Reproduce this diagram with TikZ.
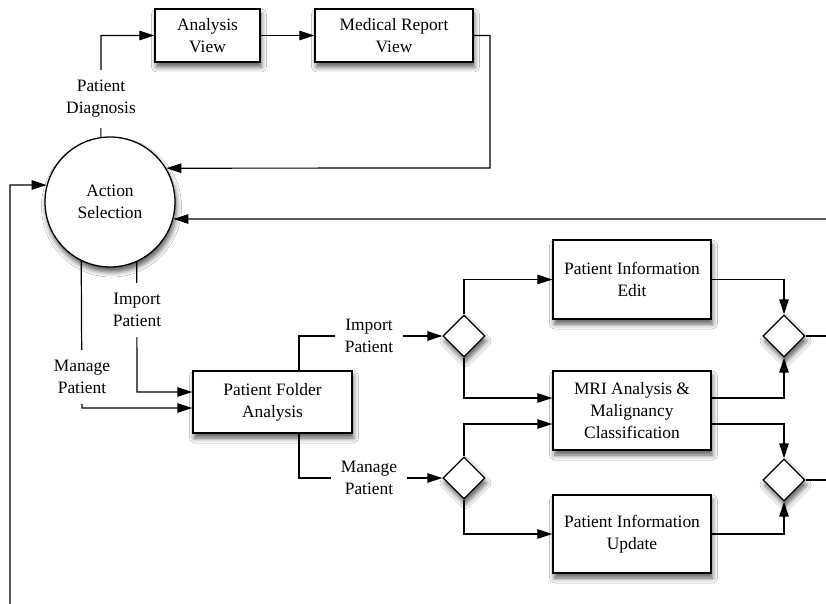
\documentclass[tikz,border=0pt]{standalone}
\usepackage{fontspec}
\setmainfont{Liberation Serif}
\usetikzlibrary{arrows.meta,shapes.geometric,shadows.blur}
\begin{document}
\begin{tikzpicture}[x=1pt,y=-1pt,
  every node/.style={font=\fontsize{17.4}{22}\selectfont, align=center},
  shad/.style={blur shadow={shadow xshift=1.5pt, shadow yshift=-5pt, shadow blur radius=5pt, shadow opacity=65}},
  box/.style={draw, fill=white, line width=1.3pt, inner sep=0pt, shad},
  dia/.style={diamond, draw, fill=white, line width=1.3pt, inner sep=0pt, minimum width=42pt, minimum height=42pt, shad},
  circ/.style={circle, draw, fill=white, line width=1.3pt, inner sep=0pt, minimum size=130pt, shad},
  conn/.style={line width=1.2pt},
  arr/.style={conn, -{Triangle[length=15pt,width=9.5pt]}},
  lbl/.style={fill=white, inner xsep=10pt, inner ysep=10pt}]
\fill[white] (0,0) rectangle (826,604);
\useasboundingbox (0,0) rectangle (826,604);

% nodes
\node[circ] (act) at (110,202) {Action\\Selection};
\node[box, minimum width=105pt, minimum height=53pt] (av) at (207.5,35.5) {Analysis\\View};
\node[box, minimum width=158pt, minimum height=53pt] (mr) at (394,35.5) {Medical Report\\View};
\node[box, minimum width=159pt, minimum height=62pt] (pfa) at (272.5,402) {Patient Folder\\Analysis};
\node[box, minimum width=158pt, minimum height=79pt] (pie) at (632,279.5) {Patient Information\\Edit};
\node[box, minimum width=158pt, minimum height=79pt] (mri) at (632,410.5) {MRI Analysis \&\\Malignancy\\Classification};
\node[box, minimum width=158pt, minimum height=78pt] (piu) at (632,534) {Patient Information\\Update};
\node[dia] (d1) at (464,336) {};
\node[dia] (d2) at (464,478) {};
\node[dia] (d3) at (784,336) {};
\node[dia] (d4) at (784,480) {};
\coordinate (inR) at (826,219);
\coordinate (inB) at (10,604);
\coordinate (out1) at (826,336);
\coordinate (out2) at (826,480);

% connectors
\draw[arr] (act.98) -- (101,35.5) -- (av.west);
\draw[arr] (av.east) -- (mr.west);
\draw[arr] (mr.east) -- (490,35.5) -- (490,168) -- (act.31.5);
\draw[arr] (inR) -- (act.-15.2);
\draw[arr] (inB) -- (10,185) -- (act.165.2);
\draw[arr] (act.244.5) -- (82,408) -- (pfa.west |- 0,408);
\draw[arr] (act.294.5) -- (137,392) -- (pfa.west |- 0,392);
\draw[arr] (299,0 |- pfa.north) |- (d1.west);
\draw[arr] (299,0 |- pfa.south) |- (d2.west);
\draw[arr] (d1.north) |- (pie.west);
\draw[arr] (d1.south) |- (mri.west |- 0,398);
\draw[arr] (d2.north) |- (mri.west |- 0,424);
\draw[arr] (d2.south) |- (piu.west);
\draw[arr] (pie.east) -| (d3.north);
\draw[arr] (mri.east |- 0,398) -| (d3.south);
\draw[arr] (mri.east |- 0,424) -| (d4.north);
\draw[arr] (piu.east) -| (d4.south);
\draw[conn] (d3.east) -- (out1);
\draw[conn] (d4.east) -- (out2);

% labels
\node[lbl] (lDiag) at (101,99) {Patient\\Diagnosis};
\node[lbl] (lImp1) at (137,310) {Import\\Patient};
\node[lbl] (lMan1) at (82,377) {Manage\\Patient};
\node[lbl] (lImp2) at (369,336) {Import\\Patient};
\node[lbl] (lMan2) at (369,478) {Manage\\Patient};
\end{tikzpicture}
\end{document}
